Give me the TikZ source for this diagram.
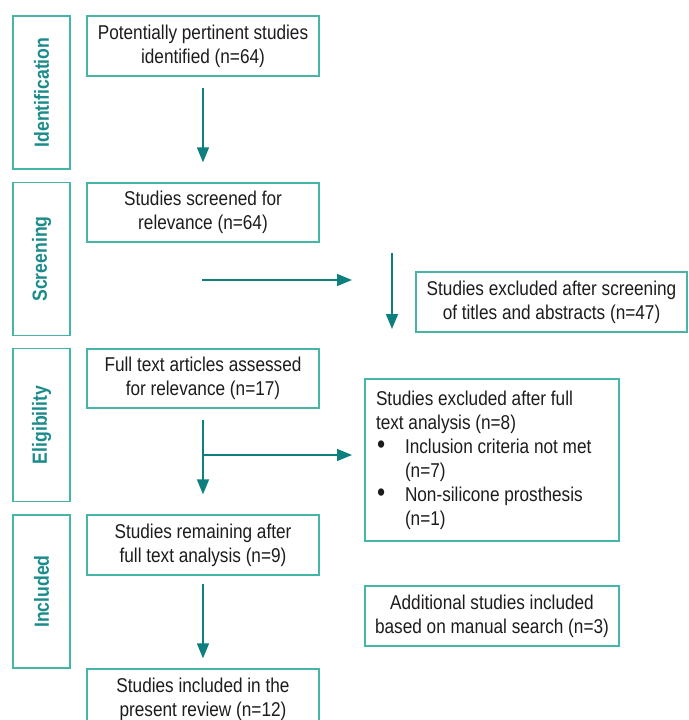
\documentclass[tikz,border=0pt]{standalone}
\usepackage{fontspec}
\setmainfont[FakeStretch=0.86]{Liberation Sans}
\usetikzlibrary{arrows.meta}
\definecolor{boxline}{HTML}{45B5A5}
\definecolor{arrowc}{HTML}{0E7F7F}
\definecolor{stagec}{HTML}{1B8B8B}
\definecolor{txt}{HTML}{1E1B1C}
\newcommand{\bigbul}{\makebox[29pt][l]{\hspace{1pt}\raisebox{-0.5pt}{\scalebox{1.35}{\textbullet}}}}
\tikzset{
  stagebox/.style={draw=boxline, line width=1.3pt, rotate=90, minimum width=153pt, minimum height=57pt, inner sep=0pt,
    text=stagec, font=\fontsize{20.5}{24}\selectfont\bfseries},
  mainbox/.style={draw=boxline, line width=1.3pt, minimum width=232pt, minimum height=60pt, inner sep=0pt,
    align=center, text=txt, font=\fontsize{20}{24}\selectfont},
  arr/.style={draw=arrowc, line width=1.5pt, -{Triangle[length=15pt,width=12pt]}},
}
\begin{document}
\begin{tikzpicture}[x=1pt,y=-1pt]
\useasboundingbox (0,0) rectangle (688,720);
\clip (0,0) rectangle (688,720);
% stage labels
\node[stagebox] (s1) at (41.5,92.5) {Identification};
\node[stagebox] (s2) at (41.5,259) {Screening};
\node[stagebox] (s3) at (41.5,425) {Eligibility};
\node[stagebox] (s4) at (41.5,591.5) {Included};
% main boxes
\node[mainbox] (b1) at (203,46) {Potentially pertinent studies\\identified (n=64)};
\node[mainbox, minimum height=59pt] (b2) at (203,212.5) {Studies screened for\\relevance (n=64)};
\node[mainbox, minimum height=59pt] (b3) at (203,378.5) {Full text articles assessed\\for relevance (n=17)};
\node[mainbox] (b4) at (203,545) {Studies remaining after\\full text analysis (n=9)};
\node[mainbox] (b5) at (203,699) {Studies included in the\\present review (n=12)};
% side boxes
\node[mainbox, minimum width=271pt] (e1) at (551.5,302) {Studies excluded after screening\\of titles and abstracts (n=47)};
\node[mainbox, minimum width=254pt, minimum height=162pt, align=flush left, text width=232pt] (e2) at (492,460)
  {Studies excluded after full\\text analysis (n=8)\\
   \bigbul Inclusion criteria not met\\
   \hspace*{29pt}(n=7)\\
   \bigbul Non-silicone prosthesis\\
   \hspace*{29pt}(n=1)};
\node[mainbox, minimum width=254pt] (a1) at (492,616) {Additional studies included\\based on manual search (n=3)};
% free ends
\coordinate (h1s) at (202,280);
\coordinate (h1e) at (352,280);
\coordinate (v1s) at (392,253);
\coordinate (v1e) at (392,329);
\coordinate (h2e) at (352,455);
\coordinate (j2) at (202,455);
% arrows
\draw[arr] ([yshift=-11pt]b1.south) -- ([yshift=20pt]b2.north);
\draw[arr] (h1s) -- (h1e);
\draw[arr] (v1s) -- (v1e);
\draw[arr] ([yshift=-11pt]b3.south) -- ([yshift=20pt]b4.north);
\draw[arr] (j2) -- (h2e);
\draw[arr] ([yshift=-8pt]b4.south) -- ([yshift=10pt]b5.north);
\end{tikzpicture}
\end{document}
